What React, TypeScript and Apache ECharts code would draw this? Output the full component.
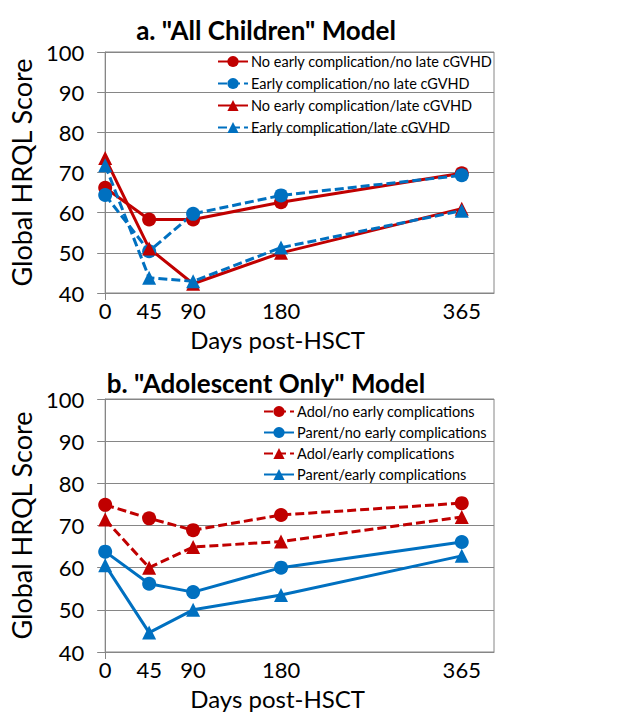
import React, { useEffect, useRef } from "react";
import * as echarts from "echarts";

const days = [0, 45, 90, 180, 365];

const titleA = 'a. "All Children" Model';
const titleB = 'b. "Adolescent Only" Model';
const xName = "Days post-HSCT";
const yName = "Global HRQL Score";

const namesA = [
  "No early complication/no late cGVHD",
  "Early complication/no late cGVHD",
  "No early complication/late cGVHD",
  "Early complication/late cGVHD",
];
const allNoEarlyNoLate = [66.2, 58.3, 58.3, 62.6, 69.8];
const allEarlyNoLate = [64.4, 50.4, 59.7, 64.3, 69.3];
const allNoEarlyLate = [73.6, 51.1, 42.3, 50.0, 61.0];
const allEarlyLate = [71.8, 43.8, 42.9, 51.3, 60.5];

const namesB = [
  "Adol/no early complications",
  "Parent/no early complications",
  "Adol/early complications",
  "Parent/early complications",
];
const adolNoEarly = [74.9, 71.7, 68.9, 72.5, 75.3];
const parentNoEarly = [63.8, 56.2, 54.2, 60.0, 66.1];
const adolEarly = [71.4, 60.0, 64.9, 66.2, 72.0];
const parentEarly = [60.6, 44.6, 50.0, 53.5, 62.8];

const RED = "#C00000";
const BLUE = "#0070C0";
const GRID = "#868686";
const FONT = "Lato";

function mkSeries(
  name: string,
  vals: number[],
  color: string,
  dashed: boolean,
  symbol: string,
  idx: number
) {
  return {
    name,
    type: "line",
    xAxisIndex: idx,
    yAxisIndex: idx,
    data: days.map((d, i) => [d, vals[i]]),
    symbol,
    symbolSize: 14,
    itemStyle: { color },
    lineStyle: { color, width: 3, type: dashed ? [9, 4] : "solid" },
    z: 3,
  };
}

function xAxis(idx: number) {
  return {
    type: "value",
    gridIndex: idx,
    min: 0,
    max: 398,
    name: xName,
    nameLocation: "middle",
    nameGap: 34,
    nameTextStyle: {
      fontFamily: FONT,
      fontSize: 24,
      color: "#000",
      padding: [0, 44, 0, 0],
    },
    axisLine: { show: true, lineStyle: { color: GRID, width: 1 } },
    axisTick: { show: true, customValues: [0], length: 7, lineStyle: { color: GRID } },
    axisLabel: {
      customValues: days,
      fontFamily: FONT,
      fontSize: 22,
      color: "#000",
      margin: 6,
    },
    splitLine: { show: false },
  };
}

function yAxis(idx: number) {
  return {
    type: "value",
    gridIndex: idx,
    min: 40,
    max: 100,
    interval: 10,
    name: yName,
    nameLocation: "middle",
    nameRotate: 90,
    nameGap: 66,
    nameTextStyle: { fontFamily: FONT, fontSize: 27, color: "#000" },
    axisLine: { show: true, lineStyle: { color: GRID, width: 1 } },
    axisTick: { show: true, length: 8, lineStyle: { color: GRID } },
    axisLabel: { fontFamily: FONT, fontSize: 22, color: "#000", margin: 21 },
    splitLine: { show: true, lineStyle: { color: GRID, width: 1 } },
  };
}

function legend(names: string[], left: number, top: number, gap: number) {
  return {
    data: names,
    orient: "vertical",
    left,
    top,
    itemWidth: 30,
    itemHeight: 14,
    itemGap: gap,
    selectedMode: false,
    textStyle: { fontFamily: FONT, fontSize: 14.5, color: "#000", padding: [0, 0, 0, -2] },
  };
}

export default function App() {
  const ref = useRef<HTMLDivElement>(null);
  useEffect(() => {
    if (!ref.current) return;
    const chart = echarts.init(ref.current, null, { renderer: "svg" });
    chart.setOption({
      animation: false,
      backgroundColor: "#fff",
      title: [
        {
          text: titleA,
          left: 261,
          textAlign: "center",
          top: 12,
          textStyle: { fontFamily: FONT, fontSize: 26, fontWeight: "bold", color: "#000" },
        },
        {
          text: titleB,
          left: 261,
          textAlign: "center",
          top: 365,
          textStyle: { fontFamily: FONT, fontSize: 26, fontWeight: "bold", color: "#000" },
        },
      ],
      legend: [legend(namesA, 212, 49, 7), legend(namesB, 258, 399, 6)],
      grid: [
        { left: 96, top: 52, width: 398, height: 241, show: true, borderColor: GRID, borderWidth: 1 },
        { left: 96, top: 399, width: 398, height: 253, show: true, borderColor: GRID, borderWidth: 1 },
      ],
      xAxis: [xAxis(0), xAxis(1)],
      yAxis: [yAxis(0), yAxis(1)],
      series: [
        mkSeries(namesA[0], allNoEarlyNoLate, RED, false, "circle", 0),
        mkSeries(namesA[1], allEarlyNoLate, BLUE, true, "circle", 0),
        mkSeries(namesA[2], allNoEarlyLate, RED, false, "triangle", 0),
        mkSeries(namesA[3], allEarlyLate, BLUE, true, "triangle", 0),
        mkSeries(namesB[0], adolNoEarly, RED, true, "circle", 1),
        mkSeries(namesB[1], parentNoEarly, BLUE, false, "circle", 1),
        mkSeries(namesB[2], adolEarly, RED, true, "triangle", 1),
        mkSeries(namesB[3], parentEarly, BLUE, false, "triangle", 1),
      ],
    });
    return () => chart.dispose();
  }, []);
  return (
    <div
      ref={ref}
      style={{ position: "fixed", left: 0, top: 0, width: 624, height: 720 }}
    />
  );
}
